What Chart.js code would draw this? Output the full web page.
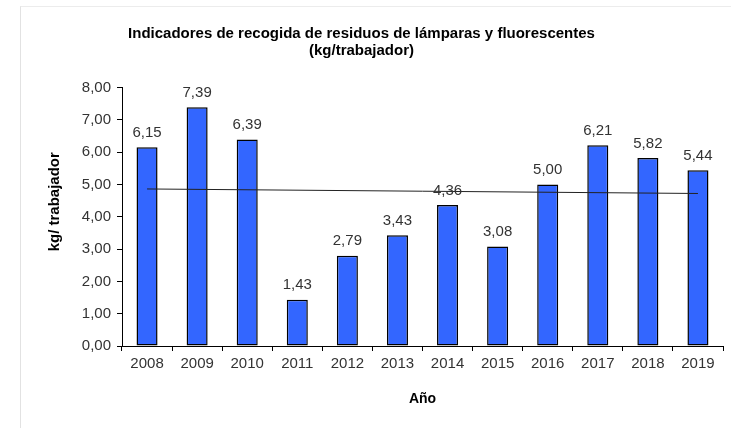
<!DOCTYPE html>
<html>
<head>
<meta charset="utf-8">
<script src="https://cdn.jsdelivr.net/npm/chart.js@4.4.1/dist/chart.umd.min.js"></script>
<style>
	html, body { margin: 0; padding: 0; background: #fff; }
	#wrap { position: relative; width: 731px; height: 428px; }
	#frame { position: absolute; left: 20px; top: 6px; right: 0; bottom: 0; border-left: 1px solid #e2e2e2; border-top: 1px solid #ececec; }
	canvas { position: absolute; left: 0; top: 0; }
</style>
</head>
<body>
<div id="wrap">
	<div id="frame"></div>
	<canvas id="chart" width="731" height="428"></canvas>
</div>
<script>
var years = ['2008', '2009', '2010', '2011', '2012', '2013', '2014', '2015', '2016', '2017', '2018', '2019'];
var kgPorTrabajador = [6.15, 7.39, 6.39, 1.43, 2.79, 3.43, 4.36, 3.08, 5.00, 6.21, 5.82, 5.44];
// trend line: first and last point only
var tendencia = [4.86, null, null, null, null, null, null, null, null, null, null, 4.72];
var yTicks = [0, 1, 2, 3, 4, 5, 6, 7, 8];

function fmt(v) {
	return v.toFixed(2).replace('.', ',');
}

var labelPlugin = {
	id: 'barLabels',
	afterDatasetsDraw: function (chart) {
		var ctx = chart.ctx;
		var meta = chart.getDatasetMeta(0);
		ctx.save();
		ctx.font = '15px "Liberation Sans", Arial, sans-serif';
		ctx.fillStyle = '#333';
		ctx.textAlign = 'center';
		ctx.textBaseline = 'bottom';
		meta.data.forEach(function (bar, i) {
			ctx.fillText(fmt(kgPorTrabajador[i]), bar.x, bar.y - 7);
		});
		ctx.restore();
	}
};

// y axis title sits a bit above the middle of the axis in the original
var yTitlePlugin = {
	id: 'yTitle',
	afterDraw: function (chart) {
		var ctx = chart.ctx;
		var area = chart.chartArea;
		ctx.save();
		ctx.translate(area.left - 67, (area.top + area.bottom) / 2 - 15);
		ctx.rotate(-Math.PI / 2);
		ctx.font = 'bold 15px "Liberation Sans", Arial, sans-serif';
		ctx.fillStyle = '#000';
		ctx.textAlign = 'center';
		ctx.textBaseline = 'middle';
		ctx.fillText('kg/ trabajador', 0, 0);
		ctx.restore();
	}
};

new Chart(document.getElementById('chart'), {
	type: 'bar',
	data: {
		labels: years,
		datasets: [{
			type: 'bar',
			data: kgPorTrabajador,
			backgroundColor: '#3366FF',
			borderColor: '#000',
			borderWidth: 1.5,
			borderSkipped: false,
			barPercentage: 0.42,
			categoryPercentage: 1,
			order: 1
		}, {
			type: 'line',
			data: tendencia,
			borderColor: '#222',
			borderWidth: 1,
			pointRadius: 0,
			spanGaps: true,
			fill: false,
			order: 0
		}]
	},
	plugins: [labelPlugin, yTitlePlugin],
	options: {
		responsive: false,
		animation: false,
		layout: { padding: { left: 0, right: 8, top: 0, bottom: 20 } },
		plugins: {
			legend: { display: false },
			tooltip: { enabled: false },
			title: {
				display: true,
				text: ['Indicadores de recogida de residuos de lámparas y fluorescentes', '(kg/trabajador)'],
				color: '#000',
				font: { family: '"Liberation Sans", Arial, sans-serif', size: 15, weight: 'bold', lineHeight: 1.15 },
				padding: { top: 25, bottom: 28 }
			}
		},
		scales: {
			x: {
				grid: { display: true, drawOnChartArea: false, drawTicks: true, tickLength: 5, color: '#000', offset: true },
				border: { display: true, color: '#000', width: 1 },
				ticks: {
					color: '#333',
					padding: 4,
					maxRotation: 0,
					font: { family: '"Liberation Sans", Arial, sans-serif', size: 15 }
				},
				title: {
					display: true,
					text: 'Año',
					color: '#000',
					font: { family: '"Liberation Sans", Arial, sans-serif', size: 14, weight: 'bold' },
					padding: { top: 8, bottom: 0 }
				},
				afterFit: function (scale) { scale.height = 62; }
			},
			y: {
				min: 0,
				max: 8,
				afterBuildTicks: function (scale) {
					scale.ticks = yTicks.map(function (v) { return { value: v }; });
				},
				grid: { display: true, drawOnChartArea: false, drawTicks: true, tickLength: 5, color: '#000' },
				border: { display: true, color: '#000', width: 1 },
				ticks: {
					color: '#333',
					padding: 6,
					font: { family: '"Liberation Sans", Arial, sans-serif', size: 15 },
					callback: function (v) { return fmt(v); }
				},
				afterFit: function (scale) { scale.width = 122; }
			}
		}
	}
});
</script>
</body>
</html>
